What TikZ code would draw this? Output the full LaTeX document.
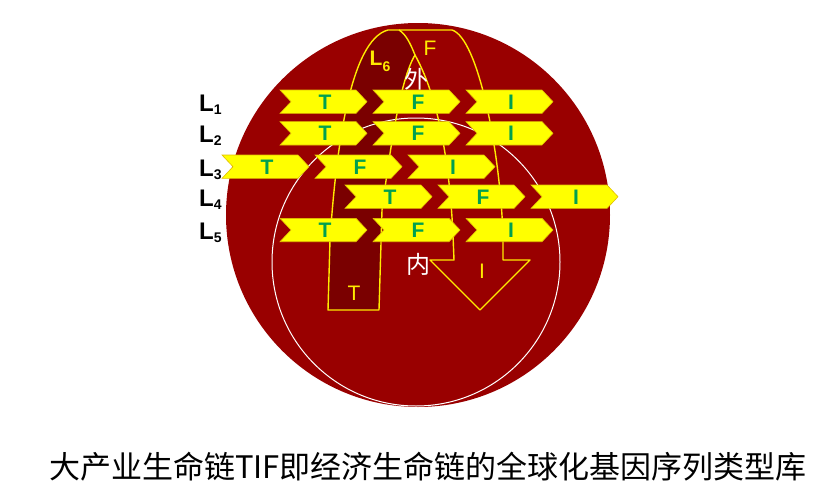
\documentclass[tikz,border=0pt]{standalone}
\usepackage{fontspec}
\setmainfont{Liberation Sans}
\newfontfamily\cjk{Noto Sans CJK SC}
\definecolor{bigred}{RGB}{153,0,0}
\definecolor{darkred}{RGB}{122,0,0}
\definecolor{uline}{RGB}{255,235,0}
\definecolor{chevyel}{RGB}{255,255,0}
\definecolor{chevedge}{RGB}{225,190,0}
\definecolor{chevgreen}{RGB}{0,160,80}
\tikzset{
  chev/.style={fill=chevyel,draw=chevedge,line width=0.6pt,line join=miter},
  chevtext/.style={inner sep=0pt,anchor=base,text=chevgreen,font=\fontsize{21}{21}\selectfont\bfseries},
  llabel/.style={inner sep=0pt,anchor=base west,text=black,font=\fontsize{24}{24}\selectfont\bfseries},
  ytext/.style={inner sep=0pt,anchor=base,text=uline,font=\fontsize{21}{21}\selectfont},
  wtext/.style={inner sep=0pt,anchor=base,text=white,font=\cjk\fontsize{24}{24}\selectfont},
  uedge/.style={draw=uline,line width=1.4pt,line join=round},
}
\begin{document}
\begin{tikzpicture}[x=1pt,y=-1pt]
\useasboundingbox (0,0) rectangle (831,490);
\fill[white] (0,0) rectangle (831,490);
% big circle
\fill[bigred] (418,215) circle[radius=192];
% dark L6 tube
\fill[darkred] (328,310) -- (330,240) .. controls (336,150) and (350,40) .. (388,30)
  -- (399,30) .. controls (406,34) and (411,45) .. (415,55)
  .. controls (400,80) and (390,150) .. (382,210) -- (379,310) -- cycle;
% inner white circle
\draw[white,line width=1pt] (416,262) circle[radius=144];
% U-turn outline
\draw[uedge] (328,310) -- (330,240) .. controls (336,150) and (350,40) .. (388,30)
  -- (452,30) .. controls (478,38) and (500,150) .. (503,235) -- (503,260)
  -- (530,260) -- (480,310) -- (430,260) -- (454,260) -- (453,235)
  .. controls (450,170) and (440,100) .. (415,55)
  .. controls (400,80) and (390,150) .. (382,210) -- (379,310) -- cycle;
\draw[uedge] (399,30) .. controls (406,34) and (411,45) .. (415,55);
% labels inside
\node[ytext] (fT) at (430,55) {F};
\node[ytext,font=\fontsize{21}{21}\selectfont\bfseries] (l6) at (380,65) {\color{uline}L\raisebox{-6pt}{\fontsize{14}{14}\selectfont\bfseries 6}};
\node[wtext] (wai) at (416,88) {外};
\node[wtext] (nei) at (418,273) {内};
\node[ytext] (iB) at (482,278) {I};
\node[ytext] (tB) at (354,300) {T};
% chevrons
\foreach \row/\yc/\xs in {1/101.7/280, 2/133.3/280, 3/166.7/222, 4/196.7/345, 5/230/280} {
  \foreach \k/\lt in {0/T,1/F,2/I} {
    \pgfmathsetmacro\xo{\xs+93*\k}
    \filldraw[chev] (\xo,\yc-11.7) -- ++(76,0) -- ++(11,11.7) -- ++(-11,11.7) -- ++(-76,0) -- ++(11,-11.7) -- cycle;
    \node[chevtext] (c\row\lt) at (\xo+45,\yc+7.5) {\lt};
  }
  \node[llabel] (L\row) at (199,\yc+9.5) {L\raisebox{-3pt}{\fontsize{14}{14}\selectfont\bfseries\row}};
}
% caption
\node[inner sep=0pt,anchor=base,font=\cjk\fontsize{31}{31}\selectfont] (cap) at (428,478) {大产业生命链TIF即经济生命链的全球化基因序列类型库};
\end{tikzpicture}
\end{document}
